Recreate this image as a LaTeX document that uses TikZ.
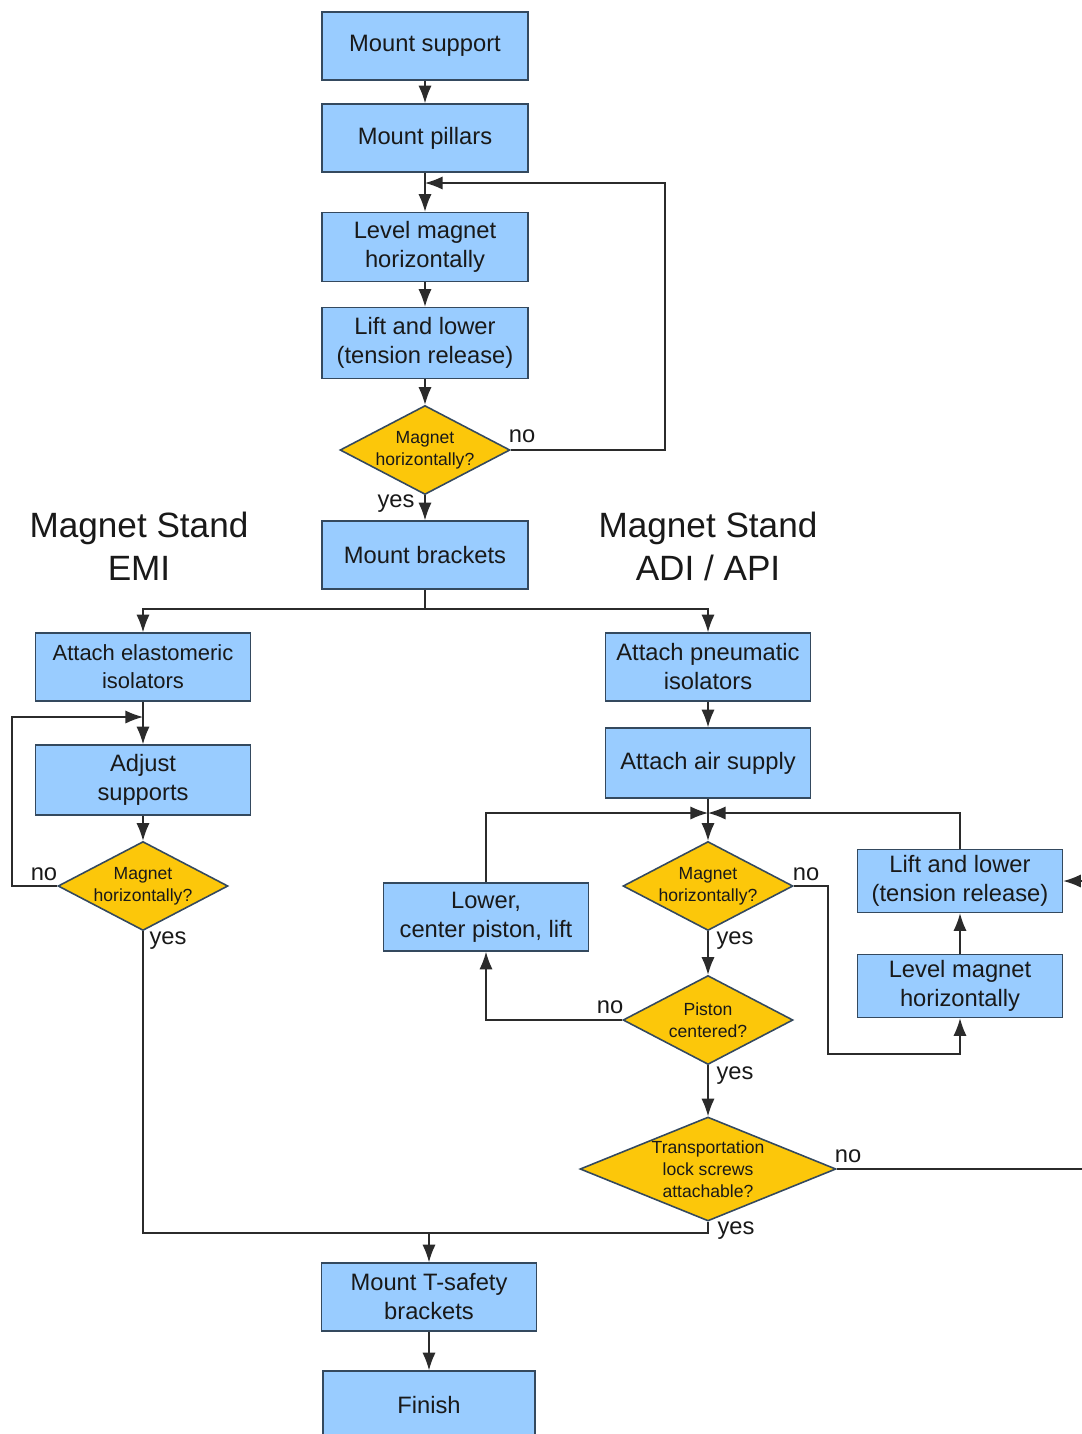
\documentclass[tikz,border=0pt]{standalone}
\usepackage{fontspec}
\setmainfont{Liberation Sans}
\usetikzlibrary{shapes.geometric,arrows.meta}
\definecolor{boxblue}{HTML}{99CCFF}
\definecolor{boxline}{HTML}{34495E}
\definecolor{qgold}{HTML}{FCC70A}
\definecolor{wire}{HTML}{2B2B2B}
\tikzset{
  stepbox/.style={draw=boxline,fill=boxblue,line width=0.9pt,minimum width=4.12cm,minimum height=1.36cm,align=center,inner sep=2pt,text=black!90,font=\fontsize{13.5}{16.5}\selectfont},
  query/.style={shape=diamond,draw=boxline,fill=qgold,line width=0.9pt,inner sep=0pt,minimum width=3.4cm,minimum height=1.78cm},
  qtext/.style={align=center,inner sep=0pt,text=black!90,font=\fontsize{10}{12.5}\selectfont},
  lbl/.style={inner sep=0pt,text=black!90,font=\fontsize{13.5}{16}\selectfont},
  heading/.style={align=center,text=black!90,font=\fontsize{20}{24.5}\selectfont},
  line/.style={draw=wire,line width=0.8pt},
  arr/.style={line,-{Latex[length=10pt,width=7.5pt]}}
}
\begin{document}
\begin{tikzpicture}[x=0.02cm,y=-0.02cm]
\path[use as bounding box,fill=white] (0,0) rectangle (1082,1434);
\clip (0,0) rectangle (1082,1434);

\node[stepbox] (ms) at (425,46) {Mount support};
\node[stepbox] (mp) at (425,138) {Mount pillars};
\node[stepbox,minimum height=1.38cm] (lv1) at (425,247) {Level magnet\\horizontally};
\node[stepbox,minimum height=1.42cm] (ll1) at (425,343) {Lift and lower\\(tension release)};
\node[query,label={[qtext]center:Magnet\\horizontally?}] (q1) at (425,450) {};
\node[stepbox] (mb) at (425,555) {Mount brackets};

\node[heading] (hemi) at (139,546) {Magnet Stand\\EMI};
\node[heading] (hadi) at (708,546) {Magnet Stand\\ADI / API};

\node[stepbox,minimum width=4.3cm,font=\fontsize{12.5}{16}\selectfont] (ae) at (143,667) {Attach elastomeric\\isolators};
\node[stepbox,minimum width=4.3cm,minimum height=1.4cm] (ad) at (143,780) {Adjust\\supports};
\node[query,label={[qtext]center:Magnet\\horizontally?}] (q2) at (143,886) {};

\node[stepbox,minimum width=4.1cm] (ap) at (708,667) {Attach pneumatic\\isolators};
\node[stepbox,minimum width=4.1cm,minimum height=1.4cm] (as) at (708,763) {Attach air supply};
\node[query,label={[qtext]center:Magnet\\horizontally?}] (q3) at (708,886) {};
\node[query,label={[qtext]center:Piston\\centered?}] (q4) at (708,1020) {};
\node[query,minimum width=5.12cm,minimum height=2.08cm,label={[qtext]center:Transportation\\lock screws\\attachable?}] (q5) at (708,1169) {};
\node[stepbox,minimum width=4.1cm] (lo) at (486,917) {Lower,\\center piston, lift};
\node[stepbox,minimum width=4.1cm,minimum height=1.26cm] (ll2) at (960,881) {Lift and lower\\(tension release)};
\node[stepbox,minimum width=4.1cm,minimum height=1.26cm] (lv2) at (960,986) {Level magnet\\horizontally};

\node[stepbox,minimum width=4.3cm] (ts) at (429,1297) {Mount T-safety\\brackets};
\node[stepbox,minimum width=4.24cm] (fin) at (429,1405) {Finish};

\coordinate (j1) at (425,183); \coordinate (r1) at (665,183);
\coordinate (s1) at (425,609);
\coordinate (j2) at (143,717); \coordinate (l2) at (12,717);
\coordinate (j3) at (708,813);
\coordinate (c2) at (828,1054); \coordinate (c3) at (960,1054);
\coordinate (e1) at (1100,881); \coordinate (e2) at (1100,1169);
\coordinate (b1) at (143,1233); \coordinate (b2) at (708,1233); \coordinate (b3) at (429,1233);

\foreach \a/\b in {ms/mp,mp/lv1,lv1/ll1,ll1/q1,q1/mb,ae/ad,ad/q2,ap/as,as/q3,q3/q4,q4/q5,lv2/ll2,ts/fin,b3/ts,e1/ll2}
  \draw[arr] (\a) -- (\b);
\draw[arr] (q1.east) -| (r1) -- (j1);
\draw[line] (mb) -- (s1);
\draw[arr] (s1) -| (ae);
\draw[arr] (s1) -| (ap);
\draw[arr] (q2.west) -| (l2) -- (j2);
\draw[arr] (lo.north) |- (j3);
\draw[arr] (ll2.north) |- (j3);
\draw[arr] (q3.east) -| (c2) -- (c3) -- (lv2.south);
\draw[arr] (q4.west) -| (lo.south);
\draw[line] (q5.east) -- (e2);
\draw[line] (q5.south) -- (b2) -- (b1) -- (q2.south);

\node[lbl] (no1) at (522,436) {no};
\node[lbl] (yes1) at (396,504) {yes};
\node[lbl] (no2) at (44,874) {no};
\node[lbl] (yes2) at (168,941) {yes};
\node[lbl] (no3) at (806,874) {no};
\node[lbl] (yes3) at (735,941) {yes};
\node[lbl] (no4) at (610,1007) {no};
\node[lbl] (yes4) at (735,1076) {yes};
\node[lbl] (no5) at (848,1156) {no};
\node[lbl] (yes5) at (736,1231) {yes};
\end{tikzpicture}
\end{document}
